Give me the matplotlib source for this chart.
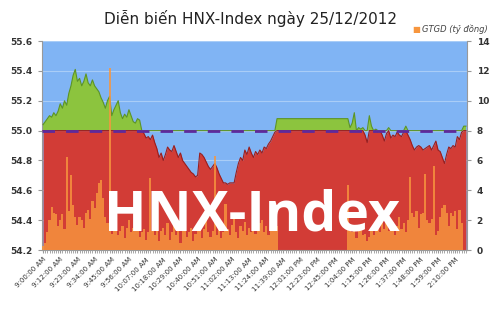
import numpy as np
import matplotlib
matplotlib.use('Agg')
import matplotlib.pyplot as plt

plt.rcParams['font.family'] = ['DejaVu Sans']

# Chỉ số HNX-Index theo từng mốc thời gian
index_vals = [
    55.04, 55.06, 55.08, 55.10, 55.09, 55.12, 55.10, 55.13, 55.18, 55.15,
    55.20, 55.17, 55.25, 55.30, 55.37, 55.41, 55.33, 55.35, 55.30, 55.33,
    55.38, 55.32, 55.30, 55.34, 55.30, 55.28, 55.26, 55.22, 55.19, 55.15,
    55.20, 55.23, 55.10, 55.14, 55.17, 55.20, 55.12, 55.08, 55.11, 55.09,
    55.14, 55.10, 55.06, 55.05, 55.08, 55.07, 55.00, 54.98, 54.95, 54.96,
    54.94, 54.97, 54.92, 54.88, 54.82, 54.85, 54.80, 54.84, 54.89, 54.87,
    54.86, 54.90, 54.86, 54.82, 54.85, 54.80, 54.78, 54.76, 54.74, 54.72,
    54.71, 54.69, 54.70, 54.85, 54.84, 54.82, 54.79, 54.76, 54.74, 54.76,
    54.78, 54.75, 54.71, 54.68, 54.65, 54.65, 54.64, 54.65, 54.65, 54.65,
    54.72, 54.78, 54.82, 54.80, 54.87, 54.84, 54.89, 54.85, 54.82, 54.86,
    54.84, 54.87, 54.85, 54.89, 54.88, 54.91, 54.93, 54.96, 54.99, 55.08,
    55.08, 55.08, 55.08, 55.08, 55.08, 55.08, 55.08, 55.08, 55.08, 55.08,
    55.08, 55.08, 55.08, 55.08, 55.08, 55.08, 55.08, 55.08, 55.08, 55.08,
    55.08, 55.08, 55.08, 55.08, 55.08, 55.08, 55.08, 55.08, 55.08, 55.08,
    55.08, 55.08, 55.08,
    55.02, 55.05, 55.12, 55.00, 55.02, 55.01, 55.02,
    54.97, 54.92, 55.10, 55.03, 55.00, 55.01, 54.99, 55.00, 54.97, 54.93,
    54.98, 55.02, 54.95, 54.97, 54.96, 54.99, 54.97, 54.96, 54.99, 55.03,
    54.97, 54.94, 54.90, 54.87, 54.89, 54.90, 54.89, 54.87, 54.88, 54.89,
    54.90, 54.87, 54.90, 54.93, 54.87, 54.86, 54.82, 54.78, 54.84, 54.89,
    54.88, 54.90, 54.89, 54.96, 54.94, 54.99, 55.03, 55.03,
]

# Giá trị giao dịch (tỷ đồng)
gtgd = [
    0.3, 0.5, 1.2, 2.0, 2.9, 2.5, 2.4, 1.6, 2.0, 2.4,
    1.4, 6.2, 2.6, 5.0, 3.0, 2.2, 1.7, 2.2, 2.0, 1.5,
    2.5, 2.7, 2.1, 3.3, 2.8, 3.8, 4.5, 4.7, 3.5, 2.2,
    1.8, 12.2, 1.1, 1.5, 1.3, 1.0, 1.3, 1.6, 0.8, 1.5,
    2.0, 1.2, 1.5, 1.7, 1.4, 0.9, 1.2, 1.4, 0.7, 1.2,
    4.8, 1.3, 1.0, 1.6, 0.6, 1.3, 1.5, 1.0, 1.8, 0.7,
    1.2, 1.6, 1.0, 1.4, 0.5, 1.3, 1.7, 0.9, 1.2, 1.5,
    0.6, 1.1, 1.6, 1.3, 0.8, 1.4, 2.1, 1.2, 0.9, 1.3,
    6.3, 1.0, 1.5, 0.8, 1.2, 3.1, 1.4, 1.0, 1.7, 2.5,
    1.2, 0.8, 1.6, 1.3, 1.9, 1.0, 1.5, 1.2, 1.7, 1.1,
    1.4, 1.8, 2.0, 1.2, 1.6, 1.0, 1.5, 1.8, 1.3, 1.6,
    0, 0, 0, 0, 0, 0, 0, 0, 0, 0,
    0, 0, 0, 0, 0, 0, 0, 0, 0, 0,
    0, 0, 0, 0, 0, 0, 0, 0, 0, 0,
    0, 0, 4.35,
    1.5, 1.2, 1.7, 0.8, 1.4, 1.6, 1.0,
    1.1, 0.6, 0.9, 1.3, 1.0, 1.5, 1.8, 1.2, 1.9, 1.4,
    2.0, 1.3, 1.7, 1.9, 1.0, 1.6, 2.2, 1.4, 1.8, 1.2,
    2.0, 4.9, 2.5, 2.2, 2.6, 1.5, 2.4, 2.5, 5.1, 2.0,
    1.8, 2.1, 5.6, 1.0, 1.3, 2.2, 2.8, 3.0, 2.5, 1.6,
    2.5, 2.3, 2.6, 1.4, 2.7, 1.8, 0, 0,
]

time_labels = ['9:00:00 AM', '9:12:00 AM', '9:23:00 AM', '9:34:00 AM', '9:45:00 AM',
               '9:56:00 AM', '10:07:00 AM', '10:18:00 AM', '10:29:00 AM', '10:40:00 AM',
               '10:51:00 AM', '11:02:00 AM', '11:13:00 AM', '11:24:00 AM', '11:39:00 AM',
               '12:01:00 PM', '12:23:00 PM', '12:45:00 PM', '1:04:00 PM', '1:15:00 PM',
               '1:26:00 PM', '1:37:00 PM', '1:48:00 PM', '1:59:00 PM', '2:10:00 PM']

tham_chieu = 55.0

idx = np.array(index_vals)
vol = np.array(gtgd)
x = np.arange(len(idx))

fig = plt.figure(figsize=(5, 3.13), dpi=100)
ax = fig.add_axes([0.084, 0.201, 0.85, 0.668])
ax.set_facecolor('#80B4F4')

ax.set_ylim(54.2, 55.6)
ax.set_xlim(-0.5, len(idx) - 0.5)
ax.set_yticks(np.arange(54.2, 55.61, 0.2))
ax.yaxis.grid(True, color='#A9CDF7', lw=0.8)
ax.set_axisbelow(True)

# vùng đỏ (dưới tham chiếu) và vùng xanh (trên tham chiếu)
ax.fill_between(x, 54.2, np.minimum(idx, tham_chieu), color='#D23C36', lw=0, zorder=2)
ax.fill_between(x, tham_chieu, idx, where=idx > tham_chieu, interpolate=True,
                color='#8CC43E', lw=0, zorder=2)
ax.plot(x, np.minimum(idx, tham_chieu), color='#9A1E1E', lw=0.8, zorder=3)
ax.plot(x, np.maximum(idx, tham_chieu), color='#5C9426', lw=0.8, zorder=3)

ax.set_yticklabels(['%.1f' % v for v in np.arange(54.2, 55.61, 0.2)],
                   fontsize=6.5, fontweight='bold', color='#333333')
ax.set_xticks(np.arange(0, len(time_labels) * 8, 8))
ax.set_xticklabels(time_labels, rotation=45, ha='right', rotation_mode='anchor',
                   fontsize=5, color='#333333')
ax.set_xticks(x, minor=True)
ax.tick_params(axis='x', which='both', length=2.5, color='#999999', pad=2)
ax.tick_params(axis='y', length=3, color='#999999', pad=4)
for s in ['top', 'right']:
    ax.spines[s].set_visible(False)
for s in ['left', 'bottom']:
    ax.spines[s].set_color('#999999')

# trục phụ: GTGD
ax2 = ax.twinx()
ax2.bar(x, vol, width=1.0, color='#F7963E', alpha=0.82, lw=0, zorder=2)
ax2.axhline(8.0, color='#5E2A9C', lw=2.0, dashes=(4.5, 4.0), zorder=4)
ax2.set_ylim(0, 14)
ax2.set_yticks(range(0, 15, 2))
ax2.set_yticklabels([str(v) for v in range(0, 15, 2)], fontsize=6.5,
                    fontweight='bold', color='#333333')
ax2.tick_params(axis='y', length=3, color='#999999', pad=4)
for s in ['top', 'left', 'bottom']:
    ax2.spines[s].set_visible(False)
ax2.spines['right'].set_color('#999999')

# chữ chìm
ax2.text(0.495, 0.095, 'HNX-Index', transform=ax2.transAxes, ha='center', va='baseline',
         fontsize=40, fontweight='bold', family='Open Sans', color='white', zorder=5)

fig.text(0.5, 0.94, 'Diễn biến HNX-Index ngày 25/12/2012', ha='center', va='center',
         fontsize=11, color='#222222')
fig.text(0.832, 0.906, '■', ha='center', va='center', fontsize=6, color='#F7963E')
fig.text(0.844, 0.906, 'GTGD (tỷ đồng)', ha='left', va='center', fontsize=6,
         style='italic', color='#444444')

fig.savefig('out.png', dpi=100)
